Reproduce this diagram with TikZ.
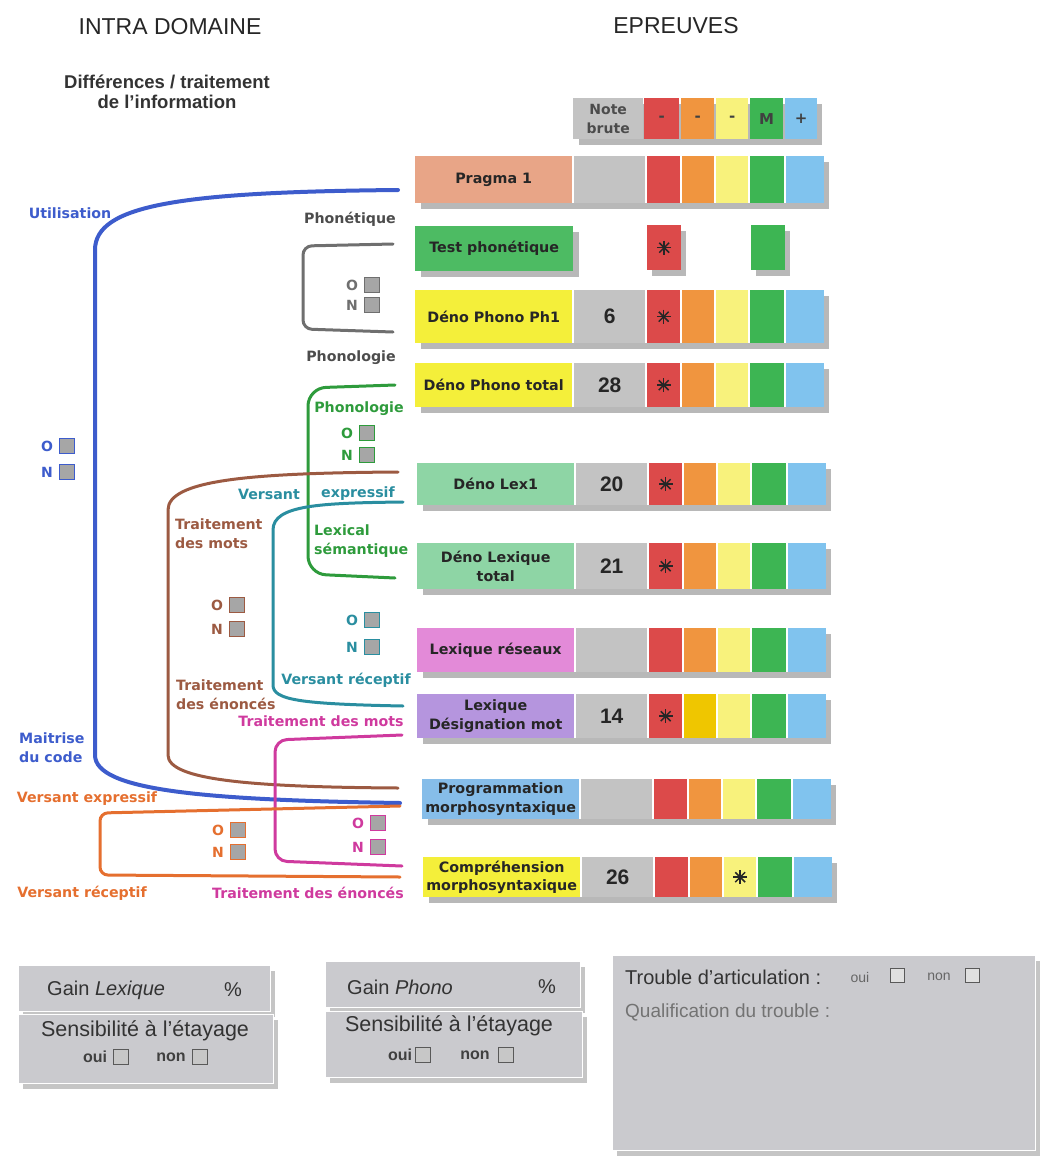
\documentclass[tikz,border=0pt]{standalone}
\usepackage{fontspec}
\setmainfont{Liberation Sans}
\newfontfamily\verd{DejaVu Sans}
\usetikzlibrary{calc}
\usetikzlibrary{shadows}

\definecolor{csaumon}{HTML}{E8A587}
\definecolor{cvertf}{HTML}{4DBB63}
\definecolor{cjaunelab}{HTML}{F4EF3A}
\definecolor{cvertcl}{HTML}{8ED5A5}
\definecolor{crose}{HTML}{E38AD8}
\definecolor{clavande}{HTML}{B595DE}
\definecolor{cbleucl}{HTML}{86BDE9}
\definecolor{cgris}{HTML}{C3C3C3}
\definecolor{crouge}{HTML}{DC4A4A}
\definecolor{corange}{HTML}{F0953F}
\definecolor{cjaune}{HTML}{F8F27C}
\definecolor{cvert}{HTML}{3DB553}
\definecolor{cbleu}{HTML}{80C3EE}
\definecolor{cor}{HTML}{EFC600}
\definecolor{cbleuA}{HTML}{3D5CCC}
\definecolor{cgrisA}{HTML}{6F6F6F}
\definecolor{cvertA}{HTML}{2E9B3C}
\definecolor{cbrun}{HTML}{9C5A42}
\definecolor{csarc}{HTML}{2A8EA0}
\definecolor{cmag}{HTML}{CF3A9E}
\definecolor{corangeA}{HTML}{E56F2F}
\definecolor{cboite}{HTML}{CACACE}

\tikzset{
  lab/.style={inner sep=0pt, anchor=north west, align=center, text=black!85,
    font=\verd\bfseries\fontsize{14.3}{18.5}\selectfont},
  cellule/.style={inner sep=0pt, anchor=north west},
  ombre/.style={fill=black!28},
  accol/.style={line width=3pt, line cap=round},
  titre/.style={font=\fontsize{23}{26}\selectfont, text=black!85},
  etiq/.style={font=\verd\bfseries\fontsize{14.2}{19}\selectfont, inner sep=0pt},
  chiffre/.style={font=\bfseries\fontsize{21}{24}\selectfont, text=black!85},
  lettre/.style={font=\verd\bfseries\fontsize{14}{16}\selectfont, inner sep=0pt},
  case/.style={minimum size=15pt, inner sep=0pt, fill=black!35, line width=1.3pt},
  boite/.style={cellule, fill=cboite, draw=white, line width=1pt,
    drop shadow={shadow xshift=4pt, shadow yshift=-5pt, fill=black!45}},
  texteboite/.style={font=\fontsize{20}{22}\selectfont, text=black!80, inner sep=0pt},
  ouinon/.style={font=\bfseries\fontsize{16}{18}\selectfont, text=black!75, inner sep=0pt},
  caseb/.style={minimum size=15pt, inner sep=0pt, fill=black!22, draw=black!65, line width=1pt},
}

\begin{document}
\begin{tikzpicture}[x=1pt, y=-1pt]
        \newcommand{\epreuve}[7]{%
          \pgfmathsetmacro{\haut}{#3-#2}
          \fill[ombre] (#4+421,#2+6) rectangle (#4+829,#3+6);
          \fill[white] (#4+415,#2) rectangle (#4+824,#3);
          \node[lab, fill=#5, minimum width=157pt, minimum height=\haut pt] (#1) at (#4+415,#2) {#6};
          \node[cellule, chiffre, fill=cgris, minimum width=71pt, minimum height=\haut pt] (#1-note) at (#4+574,#2) {#7};
          \foreach \coul/\xc/\lc in {rouge/647/33,orange/682/32,jaune/716/32,vert/750/34,bleu/786/38}
            \node[cellule, fill=c\coul, minimum width=\lc pt, minimum height=\haut pt] (#1-\coul) at (#4+\xc,#2) {};
        }
        \newcommand{\etoile}[1]{%
          \foreach \ang in {0,45,90,135}
            \draw[line width=1.5pt, black!85] ($(#1.center)+(\ang:7pt)$) -- ($(#1.center)-(\ang:7pt)$);
        }
        \newcommand{\marque}[5]{%
          \node[lettre, text=#2] (#1-o) at (#3,#4) {O};
          \node[case, draw=#2] (#1-co) at (#3+20,#4) {};
          \node[lettre, text=#2] (#1-n) at (#3,#5) {N};
          \node[case, draw=#2] (#1-cn) at (#3+20,#5) {};
        }
        \useasboundingbox (0,0) rectangle (1045,1162);
        \node[titre] (intra) at (170,27) {INTRA DOMAINE};
        \node[titre] (epreuves) at (676,26) {EPREUVES};
        \node[font=\bfseries\fontsize{18.5}{20.5}\selectfont, text=black!80, align=center] (diff) at (167,92) {Différences / traitement\\de l'information};
        \fill[ombre] (579,104) rectangle (822,145);
        \node[cellule, fill=cgris, minimum width=70pt, minimum height=41pt, align=center, text=black!70,
          font=\verd\bfseries\fontsize{14}{19}\selectfont] (note) at (573,98) {Note\\brute};
        \foreach \coul/\xc/\lc/\sgn in {rouge/644/35/-,orange/681/33/-,jaune/716/32/-,vert/750/33/M,bleu/785/32/+}
          \node[cellule, fill=c\coul, minimum width=\lc pt, minimum height=41pt, text=black!75,
            font=\verd\bfseries\fontsize{15}{16}\selectfont] (tete-\coul) at (\xc,98) {\sgn};
        \epreuve{pragma}{156}{203}{0}{csaumon}{Pragma 1}{}
        \fill[ombre] (421,232) rectangle (579,277);
        \node[lab, fill=cvertf, minimum width=158pt, minimum height=45pt] (testph) at (415,226) {Test phonétique};
        \fill[ombre] (652,231) rectangle (686,276);
        \node[cellule, fill=crouge, minimum width=34pt, minimum height=45pt] (testph-rouge) at (647,225) {};
        \fill[ombre] (756,231) rectangle (790,276);
        \node[cellule, fill=cvert, minimum width=34pt, minimum height=45pt] (testph-vert) at (751,225) {};
        \etoile{testph-rouge}
        \epreuve{denoph1}{290}{343}{0}{cjaunelab}{Déno Phono Ph1}{6}
        \etoile{denoph1-rouge}
        \epreuve{denophtot}{363}{407}{0}{cjaunelab}{Déno Phono total}{28}
        \etoile{denophtot-rouge}
        \epreuve{denolex1}{463}{505}{2}{cvertcl}{Déno Lex1}{20}
        \etoile{denolex1-rouge}
        \epreuve{denolextot}{543}{589}{2}{cvertcl}{Déno Lexique\\total}{21}
        \etoile{denolextot-rouge}
        \epreuve{lexres}{628}{672}{2}{crose}{Lexique réseaux}{}
        \epreuve{lexdes}{694}{738}{2}{clavande}{Lexique\\Désignation mot}{14}
        \fill[cor] (lexdes-orange.north west) rectangle (lexdes-orange.south east);
        \etoile{lexdes-rouge}
        \epreuve{progmorph}{779}{819}{7}{cbleucl}{Programmation\\morphosyntaxique}{}
        \epreuve{compmorph}{857}{897}{8}{cjaunelab}{Compréhension\\morphosyntaxique}{26}
        \etoile{compmorph-jaune}
        \coordinate (bleuH) at (398,190);
        \coordinate (bleuB) at (400,803);
        \coordinate (grisH) at (393,244);
        \coordinate (grisB) at (393,332);
        \coordinate (vertH) at (395,385);
        \coordinate (vertB) at (395,578);
        \coordinate (brunH) at (398,472);
        \coordinate (brunB) at (398,788);
        \coordinate (sarcH) at (403,502);
        \coordinate (sarcB) at (403,706);
        \coordinate (magH) at (402,735);
        \coordinate (magB) at (402,866);
        \coordinate (orH) at (400,806);
        \coordinate (orB) at (400,877);
        \draw[accol, cbleuA, line width=4pt] (bleuH) .. controls (180,192) and (95,205) .. (95,250) -- (95,755) .. controls (95,790) and (200,800) .. (bleuB);
        \draw[accol, cgrisA, rounded corners=9pt] (grisH) -- (303,246) -- (303,329) -- (grisB);
        \draw[accol, cvertA, rounded corners=18pt] (vertH) -- (308,388) -- (308,574) -- (vertB);
        \draw[accol, cbrun] (brunH) .. controls (250,473) and (168,480) .. (168,510) -- (168,755) .. controls (168,780) and (250,787) .. (brunB);
        \draw[accol, csarc] (sarcH) .. controls (320,503) and (273,505) .. (273,530) -- (273,685) .. controls (273,700) and (300,704) .. (sarcB);
        \draw[accol, cmag, rounded corners=12pt] (magH) -- (275,740) -- (275,861) -- (magB);
        \draw[accol, corangeA, rounded corners=8pt] (orH) -- (100,813) -- (100,875) -- (orB);
        \node[etiq, text=cbleuA] (l-util) at (70,213) {Utilisation};
        \node[etiq, text=cbleuA, anchor=west, align=left] (l-maitrise) at (19,748) {Maitrise\\du code};
        \node[etiq, text=black!70] (l-phonet) at (350,219) {Phonétique};
        \node[etiq, text=black!70] (l-phonol) at (351,358) {Phonologie};
        \node[etiq, text=cvertA] (l-phonolv) at (359,409) {Phonologie};
        \node[etiq, text=cvertA, anchor=west, align=left] (l-lexsem) at (314,541) {Lexical\\sémantique};
        \node[etiq, text=csarc] (l-versant) at (269,494) {Versant};
        \node[etiq, text=csarc] (l-express) at (358,494) {expressif};
        \node[etiq, text=csarc] (l-recept) at (346,680) {Versant réceptif};
        \node[etiq, text=cbrun, anchor=west, align=left] (l-tmots) at (175,534) {Traitement\\des mots};
        \node[etiq, text=cbrun, anchor=west, align=left] (l-tenonc) at (176,695) {Traitement\\des énoncés};
        \node[etiq, text=cmag] (l-mmots) at (321,721) {Traitement des mots};
        \node[etiq, text=cmag] (l-menonc) at (308,893) {Traitement des énoncés};
        \node[etiq, text=corangeA] (l-oexpr) at (87,799) {Versant expressif};
        \node[etiq, text=corangeA] (l-orecep) at (82,893) {Versant réceptif};
        \marque{ongris}{cgrisA}{352}{285}{305}
        \marque{onbleu}{cbleuA}{47}{446}{472}
        \marque{onvert}{cvertA}{347}{433}{455}
        \marque{onbrun}{cbrun}{217}{605}{629}
        \marque{onsarc}{csarc}{352}{620}{647}
        \marque{onmag}{cmag}{358}{823}{847}
        \marque{onor}{corangeA}{218}{830}{852}
        \node[boite, minimum width=252pt, minimum height=46pt] (gainlex) at (18,965) {};
        \node[texteboite, anchor=west] (gainlex-t) at (47,990) {Gain \textit{Lexique}};
        \node[texteboite] (gainlex-p) at (233,990) {\%};
        \node[boite, minimum width=255pt, minimum height=69pt] (sensA) at (18,1014) {};
        \node[texteboite, font=\fontsize{21.5}{24}\selectfont] (sensA-t) at (145,1031) {Sensibilité à l'étayage};
        \node[ouinon] (sensA-oui) at (95,1057) {oui};
        \node[caseb] (sensA-c1) at (121,1057) {};
        \node[ouinon] (sensA-non) at (171,1057) {non};
        \node[caseb] (sensA-c2) at (200,1057) {};
        \node[boite, minimum width=255pt, minimum height=46pt] (gainph) at (325,961) {};
        \node[texteboite, anchor=west] (gainph-t) at (347,987) {Gain \textit{Phono}};
        \node[texteboite] (gainph-p) at (547,987) {\%};
        \node[boite, minimum width=257pt, minimum height=66pt] (sensB) at (325,1011) {};
        \node[texteboite, font=\fontsize{21.5}{24}\selectfont] (sensB-t) at (449,1026) {Sensibilité à l'étayage};
        \node[ouinon] (sensB-oui) at (400,1055) {oui};
        \node[caseb] (sensB-c1) at (423,1055) {};
        \node[ouinon] (sensB-non) at (475,1055) {non};
        \node[caseb] (sensB-c2) at (506,1055) {};
        \node[boite, minimum width=423pt, minimum height=195pt] (trouble) at (612,955) {};
        \node[anchor=west, inner sep=0pt, font=\fontsize{20}{22}\selectfont, text=black!80] (trouble-t) at (625,977) {Trouble d'articulation :};
        \node[inner sep=0pt, font=\fontsize{14}{16}\selectfont, text=black!60] (trouble-oui) at (860,977) {oui};
        \node[caseb, fill=black!12, minimum size=14pt] (trouble-c1) at (897,975) {};
        \node[inner sep=0pt, font=\fontsize{14}{16}\selectfont, text=black!60] (trouble-non) at (939,977) {non};
        \node[caseb, fill=black!12, minimum size=14pt] (trouble-c2) at (972,975) {};
        \node[anchor=west, inner sep=0pt, font=\fontsize{19}{21}\selectfont, text=black!55] (qualif) at (625,1012) {Qualification du trouble :};
    \end{tikzpicture}
\end{document}
